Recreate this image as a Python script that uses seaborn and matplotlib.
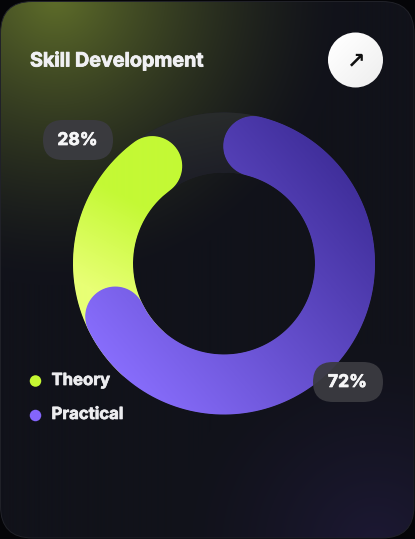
import numpy as np
import pandas as pd
import seaborn as sns
import matplotlib
matplotlib.use("Agg")
import matplotlib.pyplot as plt
import matplotlib.patheffects as pe
from matplotlib.patches import FancyBboxPatch, Circle
from matplotlib.path import Path
from matplotlib.patches import PathPatch
from matplotlib.colors import to_rgb

# ---- data ----
categories = ["Theory", "Practical"]
percent_labels = [28, 72]
arc_start_deg = [223.0, 14.0]      # clockwise from 12 o'clock, as drawn
arc_sweep_deg = [100.6, 230.0]     # as drawn in the picture
legend_colors = ["#c6f832", "#8465fb"]
title = "Skill Development"

sns.set_theme(style="white")
plt.rcParams["font.family"] = ["Inter", "DejaVu Sans"]

W, H = 415, 539
CX, CY, R_MID, THICK = 224.0, 263.5, 121.0, 60.0
PX = 72 / 100

fig = plt.figure(figsize=(W / 100, H / 100), dpi=100, facecolor="#050508")
ax = fig.add_axes([0, 0, 1, 1])
ax.set_xlim(0, W)
ax.set_ylim(H, 0)
ax.axis("off")

# ---- card background ----
yy, xx = np.mgrid[0:H, 0:W] + 0.5
img = np.ones((H, W, 3)) * np.array(to_rgb("#11121a"))
def glow(img, c, cx, cy, rad, p, amt):
    d = np.hypot(xx - cx, yy - cy)
    t = (np.clip(1 - d / rad, 0, 1) ** p * amt)[..., None]
    return img * (1 - t) + np.array(to_rgb(c)) * t
img = glow(img, "#5f6e2a", 55, -5, 290, 1.45, 1.0)
img = glow(img, "#1d1935", 375, 545, 200, 1.3, 0.95)
card = FancyBboxPatch((0.5, 1.5), W - 1.5, H - 2.5, boxstyle="round,pad=0,rounding_size=32",
                      fc="none", ec="#212229", lw=0.7, zorder=2)
ax.add_patch(card)
bg = ax.imshow(img, extent=(0, W, H, 0), zorder=1, aspect="auto")
bg.set_clip_path(card)

# ---- donut helpers ----
def pt(a, r):
    a = np.radians(a)
    return CX + r * np.sin(a), CY - r * np.cos(a)

def arc_path(start, sweep):
    a = np.linspace(start, start + sweep, 240)
    ox, oy = pt(a, R_MID + THICK / 2)
    ix, iy = pt(a[::-1], R_MID - THICK / 2)
    ex, ey = pt(a[-1], R_MID)
    sx, sy = pt(a[0], R_MID)
    c1 = np.linspace(a[-1], a[-1] + 180, 40)
    c2 = np.linspace(a[0] + 180, a[0] + 360, 40)
    x1 = ex + THICK / 2 * np.sin(np.radians(c1)); y1 = ey - THICK / 2 * np.cos(np.radians(c1))
    x2 = sx + THICK / 2 * np.sin(np.radians(c2)); y2 = sy - THICK / 2 * np.cos(np.radians(c2))
    X = np.r_[ox, x1, ix, x2]; Y = np.r_[oy, y1, iy, y2]
    return Path(np.c_[X, Y], closed=False)

def gradient(c0, c1, p0, p1):
    cmap = sns.blend_palette([c0, c1], n_colors=256, as_cmap=True)
    dx, dy = p1[0] - p0[0], p1[1] - p0[1]
    t = ((xx - p0[0]) * dx + (yy - p0[1]) * dy) / (dx * dx + dy * dy)
    return cmap(np.clip(t, 0, 1))

def seaborn_arc(start, sweep, color, z):
    a = np.linspace(start, start + sweep, 240)
    x, y = pt(a, R_MID)
    df = pd.DataFrame({"x": x, "y": y})
    sns.lineplot(data=df, x="x", y="y", sort=False, estimator=None, color=color,
                 linewidth=(THICK - 1) * PX, ax=ax, zorder=z, legend=False)
    ax.lines[-1].set_solid_capstyle("round")

# track
a_all = np.linspace(0, 360, 500)
tx, ty = pt(a_all, R_MID)
sns.lineplot(x=tx, y=ty, sort=False, estimator=None, color="#20212a",
             linewidth=THICK * PX, ax=ax, zorder=3, legend=False)
track_img = gradient("#2a2d2c", "#1d1e27", (200, 110), (215, 180))
tr = ax.imshow(track_img, extent=(0, W, H, 0), zorder=3.1, aspect="auto")
ring = np.linspace(0, 360, 500)
ox, oy = pt(ring, R_MID + THICK / 2)
ix, iy = pt(ring[::-1], R_MID - THICK / 2)
rp = PathPatch(Path(np.r_[np.c_[ox, oy], np.c_[ix, iy]]), fc="none", ec="none", transform=ax.transData)
ax.add_patch(rp)
tr.set_clip_path(rp)

# coloured arcs
grads = [
    gradient("#e8ff75", "#c4f935", (85, 285), (130, 200)),
    gradient("#8a6fff", "#3d2c97", (115, 385), (365, 175)),
]
for i, cat in enumerate(categories):
    z = 4 + i
    seaborn_arc(arc_start_deg[i], arc_sweep_deg[i], legend_colors[i], z)
    im = ax.imshow(grads[i], extent=(0, W, H, 0), zorder=z + 0.1, aspect="auto")
    patch = PathPatch(arc_path(arc_start_deg[i], arc_sweep_deg[i]), fc="none", ec="none",
                      transform=ax.transData)
    ax.add_patch(patch)
    im.set_clip_path(patch)

def heavy(w, c):
    return [pe.withStroke(linewidth=w, foreground=c)]

# ---- percentage pills ----
pill_centers = [(78, 140), (348, 382)]
for (px, py), v in zip(pill_centers, percent_labels):
    ax.add_patch(FancyBboxPatch((px - 35, py - 20), 70, 40,
                                boxstyle="round,pad=0,rounding_size=20",
                                fc="#3b3b41", ec="none", alpha=0.94, zorder=8))
    ax.text(px - 0.5, py + 0.5, f"{v}%", color="#f6f6f7", fontsize=17.5 * PX, fontweight="bold",
            ha="center", va="center", zorder=9, path_effects=heavy(0.5, "#f6f6f7"))

# ---- title ----
ax.text(30, 61, title, color="#f0f0f3", fontsize=19.7 * PX, fontweight="bold",
        ha="left", va="center", zorder=9, path_effects=heavy(0.6, "#f0f0f3"))

# ---- arrow button ----
yy_b = gradient("#ffffff", "#efefef", (335, 40), (378, 82))
btn = ax.imshow(yy_b, extent=(0, W, H, 0), zorder=8, aspect="auto")
circ = Circle((355.5, 60), 27.5, fc="none", ec="none", transform=ax.transData)
ax.add_patch(circ)
btn.set_clip_path(circ)
ax.text(355, 61, "\u2197", color="#111111", fontsize=22 * PX, ha="center", va="center",
        family="DejaVu Sans", fontweight="bold", zorder=9)

# ---- legend ----
legend_y = [381, 415.5]
sns.scatterplot(x=[35.5, 35.5], y=legend_y, hue=categories, palette=legend_colors, s=(11.5 * PX) ** 2,
                linewidth=0, legend=False, ax=ax, zorder=9)
for cat, y, dy in zip(categories, legend_y, [-0.5, -1]):
    ax.text(51.5, y + dy, cat, color="#ececef", fontsize=16.7 * PX, fontweight="bold",
            ha="left", va="center", zorder=9, path_effects=heavy(0.5, "#ececef"))

ax.set_xlim(0, W)
ax.set_ylim(H, 0)
ax.set_xlabel("")
ax.set_ylabel("")
fig.savefig("out.png", dpi=100, facecolor=fig.get_facecolor())
